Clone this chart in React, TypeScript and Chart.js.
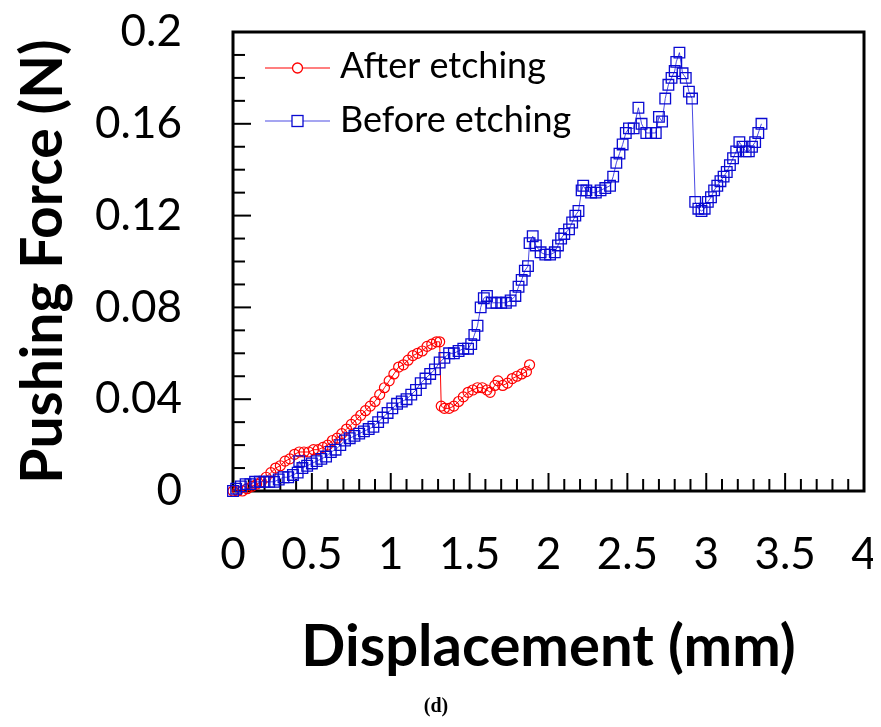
import React, { useEffect, useRef } from 'react';
import { Chart, registerables } from 'chart.js';

Chart.register(...registerables);

// ---- Data ----
const seriesLabels = ['After etching', 'Before etching'];

const afterX = [0.00, 0.03, 0.06, 0.09, 0.12, 0.15, 0.18, 0.21, 0.24, 0.27, 0.30, 0.33, 0.36, 0.39, 0.42, 0.45, 0.48, 0.51, 0.54, 0.57, 0.60, 0.63, 0.66, 0.69, 0.72, 0.75, 0.78, 0.81, 0.84, 0.87, 0.90, 0.93, 0.96, 0.99, 1.02, 1.05, 1.08, 1.11, 1.14, 1.17, 1.20, 1.23, 1.26, 1.29, 1.31, 1.32, 1.34, 1.37, 1.40, 1.43, 1.46, 1.49, 1.52, 1.55, 1.58, 1.61, 1.63, 1.66, 1.68, 1.71, 1.74, 1.77, 1.80, 1.83, 1.86, 1.88];
const afterY = [0.000, 0.000, 0.000, 0.001, 0.002, 0.003, 0.004, 0.006, 0.008, 0.010, 0.011, 0.013, 0.014, 0.016, 0.017, 0.017, 0.017, 0.018, 0.018, 0.019, 0.020, 0.022, 0.023, 0.025, 0.027, 0.029, 0.031, 0.033, 0.035, 0.037, 0.039, 0.042, 0.045, 0.048, 0.051, 0.054, 0.055, 0.057, 0.059, 0.060, 0.061, 0.063, 0.064, 0.065, 0.065, 0.037, 0.036, 0.036, 0.037, 0.039, 0.041, 0.043, 0.044, 0.045, 0.045, 0.044, 0.043, 0.046, 0.048, 0.046, 0.047, 0.049, 0.050, 0.051, 0.052, 0.055];

const beforeX = [0.00, 0.02, 0.05, 0.08, 0.11, 0.14, 0.17, 0.20, 0.23, 0.26, 0.29, 0.32, 0.35, 0.38, 0.41, 0.42, 0.44, 0.47, 0.50, 0.53, 0.56, 0.59, 0.62, 0.65, 0.68, 0.71, 0.74, 0.77, 0.80, 0.83, 0.86, 0.89, 0.92, 0.95, 0.98, 1.01, 1.04, 1.07, 1.10, 1.13, 1.16, 1.19, 1.22, 1.25, 1.28, 1.31, 1.34, 1.37, 1.40, 1.43, 1.46, 1.49, 1.51, 1.53, 1.55, 1.57, 1.59, 1.61, 1.64, 1.67, 1.70, 1.73, 1.76, 1.79, 1.81, 1.83, 1.85, 1.87, 1.88, 1.90, 1.92, 1.95, 1.98, 2.01, 2.04, 2.06, 2.08, 2.10, 2.13, 2.15, 2.17, 2.19, 2.21, 2.22, 2.24, 2.27, 2.30, 2.33, 2.36, 2.39, 2.41, 2.43, 2.45, 2.47, 2.49, 2.51, 2.54, 2.57, 2.59, 2.62, 2.65, 2.68, 2.70, 2.72, 2.74, 2.76, 2.78, 2.80, 2.81, 2.83, 2.85, 2.87, 2.89, 2.91, 2.93, 2.95, 2.97, 2.99, 3.01, 3.03, 3.05, 3.07, 3.09, 3.11, 3.13, 3.15, 3.17, 3.19, 3.21, 3.23, 3.25, 3.27, 3.29, 3.31, 3.33, 3.35];
const beforeY = [0.000, 0.001, 0.002, 0.003, 0.003, 0.004, 0.004, 0.004, 0.004, 0.004, 0.005, 0.006, 0.006, 0.007, 0.008, 0.013, 0.010, 0.011, 0.012, 0.013, 0.014, 0.015, 0.017, 0.018, 0.020, 0.022, 0.023, 0.024, 0.025, 0.026, 0.027, 0.028, 0.030, 0.032, 0.034, 0.036, 0.038, 0.039, 0.040, 0.042, 0.044, 0.047, 0.049, 0.051, 0.053, 0.056, 0.058, 0.060, 0.060, 0.061, 0.062, 0.062, 0.064, 0.068, 0.072, 0.080, 0.084, 0.085, 0.082, 0.082, 0.082, 0.082, 0.083, 0.085, 0.089, 0.092, 0.096, 0.098, 0.108, 0.111, 0.107, 0.104, 0.103, 0.103, 0.104, 0.107, 0.110, 0.112, 0.114, 0.117, 0.120, 0.122, 0.131, 0.133, 0.131, 0.130, 0.130, 0.131, 0.132, 0.133, 0.137, 0.143, 0.147, 0.151, 0.156, 0.158, 0.158, 0.167, 0.160, 0.156, 0.156, 0.156, 0.163, 0.161, 0.171, 0.177, 0.180, 0.183, 0.187, 0.191, 0.182, 0.180, 0.174, 0.171, 0.126, 0.123, 0.122, 0.123, 0.126, 0.128, 0.131, 0.133, 0.135, 0.137, 0.139, 0.142, 0.145, 0.148, 0.152, 0.150, 0.148, 0.148, 0.150, 0.152, 0.156, 0.160];

const xTicks = [0, 0.5, 1, 1.5, 2, 2.5, 3, 3.5, 4];
const xTickLabels = ['0', '0.5', '1', '1.5', '2', '2.5', '3', '3.5', '4'];
const yTicks = [0, 0.04, 0.08, 0.12, 0.16, 0.2];
const yTickLabels = ['0', '0.04', '0.08', '0.12', '0.16', '0.2'];
const xMinorStep = 0.1;
const yMinorStep = 0.01;

const xTitle = 'Displacement (mm)';
const yTitle = 'Pushing Force (N)';
const caption = '(d)';

const RED = 'rgb(255,0,0)';
const BLUE = 'rgb(10,10,210)';

const framePlugin = {
  id: 'frameTicks',
  beforeDatasetsDraw(chart: any) {
    const { ctx, chartArea, scales } = chart;
    const { left, right, top, bottom } = chartArea;
    const xs = scales.x;
    const ys = scales.y;
    ctx.save();
    ctx.strokeStyle = '#000';
    ctx.lineWidth = 2;
    const nx = Math.round((xs.max - xs.min) / xMinorStep);
    for (let i = 0; i <= nx; i++) {
      const v = xs.min + i * xMinorStep;
      const px = xs.getPixelForValue(v);
      const len = i % 5 === 0 ? 18 : 12;
      ctx.beginPath();
      ctx.moveTo(px, bottom);
      ctx.lineTo(px, bottom - len);
      ctx.stroke();
    }
    const ny = Math.round((ys.max - ys.min) / yMinorStep);
    for (let i = 0; i <= ny; i++) {
      const v = ys.min + i * yMinorStep;
      const py = ys.getPixelForValue(v);
      const len = i % 4 === 0 ? 18 : 12;
      ctx.beginPath();
      ctx.moveTo(left, py);
      ctx.lineTo(left + len, py);
      ctx.stroke();
    }
    ctx.lineWidth = 3;
    ctx.strokeRect(left, top, right - left, bottom - top);
    ctx.restore();
  },
  afterDraw(chart: any) {
    const { ctx, chartArea } = chart;
    const { left, top } = chartArea;
    ctx.save();
    chart.data.datasets.forEach((ds: any, i: number) => {
      const yLine = top + 36 + i * 53;
      const x0 = left + 32;
      const x1 = left + 97;
      const xm = (x0 + x1) / 2;
      ctx.strokeStyle = ds.borderColor;
      ctx.lineWidth = 1.2;
      ctx.beginPath();
      ctx.moveTo(x0, yLine);
      ctx.lineTo(x1, yLine);
      ctx.stroke();
      ctx.fillStyle = '#fff';
      ctx.strokeStyle = ds.pointBorderColor;
      ctx.lineWidth = 1.3;
      if (ds.pointStyle === 'circle') {
        ctx.beginPath();
        ctx.arc(xm, yLine, 5, 0, Math.PI * 2);
        ctx.fill();
        ctx.stroke();
      } else {
        ctx.fillRect(xm - 5.5, yLine - 5.5, 11, 11);
        ctx.strokeRect(xm - 5.5, yLine - 5.5, 11, 11);
      }
      ctx.fillStyle = '#000';
      ctx.font = '36px Lato';
      ctx.textAlign = 'left';
      ctx.textBaseline = 'alphabetic';
      ctx.fillText(ds.label, left + 107, yLine + 10 + i);
    });
    ctx.restore();
  },
};

export default function App() {
  const canvasRef = useRef<HTMLCanvasElement | null>(null);

  useEffect(() => {
    if (!canvasRef.current) return;
    const chart = new Chart(canvasRef.current, {
      type: 'scatter',
      data: {
        datasets: [
          {
            label: seriesLabels[0],
            data: afterX.map((x, i) => ({ x, y: afterY[i] })),
            showLine: true,
            borderColor: RED,
            borderWidth: 1,
            pointStyle: 'circle',
            pointRadius: 5,
            pointBorderColor: RED,
            pointBorderWidth: 1.2,
            pointBackgroundColor: 'rgba(0,0,0,0)',
            clip: false,
            order: 1,
          },
          {
            label: seriesLabels[1],
            data: beforeX.map((x, i) => ({ x, y: beforeY[i] })),
            showLine: true,
            borderColor: 'rgba(30,30,220,0.8)',
            borderWidth: 1,
            pointStyle: 'rect',
            pointRadius: 7.5,
            pointBorderColor: BLUE,
            pointBorderWidth: 1.3,
            pointBackgroundColor: 'rgba(0,0,0,0)',
            clip: false,
            order: 0,
          },
        ],
      } as any,
      options: {
        responsive: false,
        animation: false,
        layout: { padding: { left: 0, right: 9, top: 24, bottom: 0 } },
        plugins: {
          legend: { display: false },
          tooltip: { enabled: false },
          title: {
            display: true,
            text: caption,
            position: 'bottom',
            color: '#000',
            font: { family: "'Liberation Serif', 'Times New Roman', serif", size: 20, weight: 'bold', lineHeight: 1.2 },
            padding: { top: 6, bottom: 0 },
          },
        },
        scales: {
          x: {
            type: 'linear',
            min: 0,
            max: 4,
            grid: { display: false, drawTicks: false },
            border: { display: false },
            afterBuildTicks: (s: any) => {
              s.ticks = xTicks.map((v) => ({ value: v }));
            },
            ticks: {
              color: '#000',
              font: { family: 'Lato', size: 44, lineHeight: 1.2 },
              padding: 37,
              maxRotation: 0,
              autoSkip: false,
              callback: (_v: any, i: number) => xTickLabels[i],
            },
            title: {
              display: true,
              text: xTitle,
              color: '#000',
              font: { family: 'Lato', size: 58, weight: 'bold', lineHeight: 1.2 },
              padding: { top: 0, bottom: 7 },
            },
            afterFit: (s: any) => {
              s.height = 198;
              s.paddingLeft = 0;
              s.paddingRight = 0;
            },
          },
          y: {
            type: 'linear',
            min: 0,
            max: 0.2,
            grid: { display: false, drawTicks: false },
            border: { display: false },
            afterBuildTicks: (s: any) => {
              s.ticks = yTicks.map((v) => ({ value: v }));
            },
            ticks: {
              color: '#000',
              font: { family: 'Lato', size: 44, lineHeight: 1.2 },
              padding: 51,
              autoSkip: false,
              callback: (_v: any, i: number) => yTickLabels[i],
            },
            title: {
              display: true,
              text: yTitle,
              color: '#000',
              font: { family: 'Lato', size: 57, weight: 'bold', lineHeight: 1.2 },
              padding: { top: 1, bottom: 0 },
            },
            afterFit: (s: any) => {
              s.width = 225;
              s.paddingTop = 0;
              s.paddingBottom = 0;
            },
          },
        },
      } as any,
      plugins: [framePlugin],
    });
    return () => chart.destroy();
  }, []);

  return (
    <div style={{ width: 865, height: 711 }}>
      <canvas ref={canvasRef} width={865} height={711} style={{ display: 'block' }} />
    </div>
  );
}
